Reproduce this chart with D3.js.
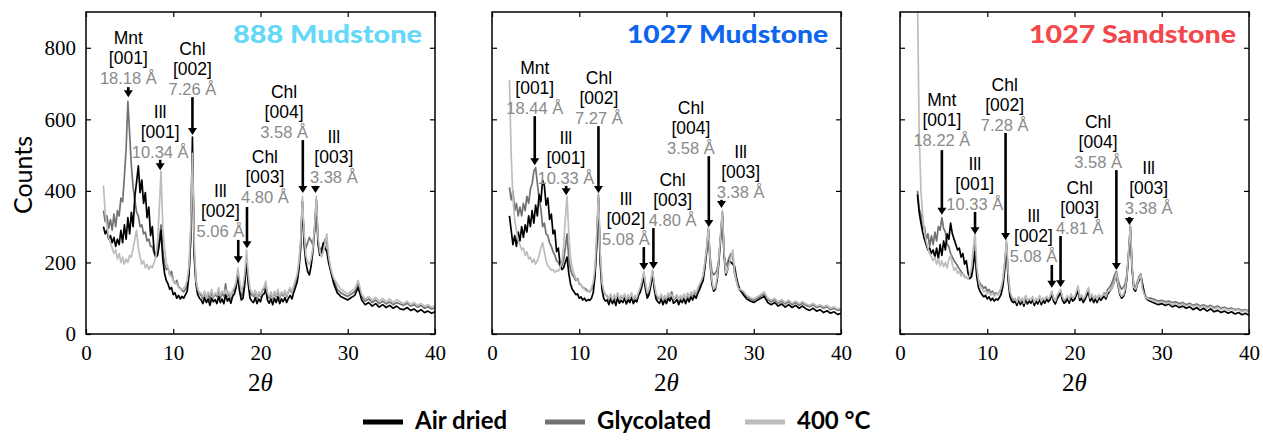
<!DOCTYPE html>
<html>
<head>
<meta charset="utf-8">
<script src="https://cdn.jsdelivr.net/npm/d3@7"></script>
<style>
  body { margin: 0; background: #fff; }
</style>
</head>
<body>
<svg id="chart" width="1263" height="440"></svg>
<script>
// 2theta grid the traces were read on (degrees)
const twoTheta = [
  2.0, 2.2, 2.4, 2.6, 2.8, 3.0, 3.2, 3.4, 3.6, 3.8,
  4.0, 4.2, 4.4, 4.6, 4.8, 5.0, 5.2, 5.4, 5.6, 5.8,
  6.0, 6.2, 6.4, 6.6, 6.8, 7.0, 7.2, 7.4, 7.6, 7.8,
  8.0, 8.2, 8.4, 8.6, 8.8, 9.0, 9.2, 9.4, 9.6, 9.8,
  10.0, 10.2, 10.4, 10.6, 10.8, 11.0, 11.2, 11.4, 11.6, 11.8,
  12.0, 12.2, 12.4, 12.6, 12.8, 13.0,
  13.2, 13.4, 13.6, 13.8, 14.0, 14.2, 14.4, 14.6, 14.8, 15.0,
  15.2, 15.4, 15.6, 15.8, 16.0, 16.2, 16.4, 16.6, 16.8, 17.0,
  17.2, 17.4, 17.6, 17.8, 18.0, 18.2, 18.4, 18.6, 18.8, 19.0,
  19.2, 19.4, 19.6, 19.8, 20.0, 20.2, 20.4, 20.6, 20.8, 21.0,
  21.2, 21.4, 21.6, 21.8, 22.0, 22.2, 22.4, 22.6, 22.8, 23.0,
  23.2, 23.4, 23.6, 23.8, 24.0, 24.2, 24.4, 24.6, 24.8, 25.0,
  25.2, 25.4, 25.6, 25.8, 26.0, 26.2, 26.4, 26.6, 26.8, 27.0,
  27.2, 27.4, 27.6, 27.8, 28.0, 28.2, 28.4,
  28.8, 29.2, 29.6, 30.0, 30.4, 30.8, 31.2, 31.6, 32.0, 32.4,
  32.8, 33.2, 33.6, 34.0, 34.4, 34.8, 35.2, 35.6, 36.0, 36.4,
  36.8, 37.2, 37.6, 38.0, 38.4, 38.8, 39.2, 39.6, 40.0
]

// ---- 888 Mudstone ----
const airDried888 = [
  300, 280, 290, 265, 275, 255, 270, 245, 265, 250,
  290, 255, 305, 265, 325, 280, 340, 300, 385, 425,
  470, 395, 430, 365, 395, 325, 355, 275, 300, 235,
  215, 220, 250, 290, 210, 170, 150, 140, 125, 130,
  110, 115, 100, 108, 98, 105, 100, 110, 120, 165,
  270, 550, 220, 140, 110, 100,
  95, 85, 102, 88, 98, 80, 100, 90, 96, 85,
  105, 88, 98, 85, 110, 92, 100, 86, 105, 112,
  130, 165, 120, 95, 100, 140, 205, 140, 100, 92,
  88, 102, 85, 98, 90, 108, 112, 125, 95, 86,
  98, 82, 100, 88, 104, 85, 98, 90, 102, 88,
  100, 108, 98, 115, 130, 145, 180, 240, 370, 250,
  200, 175, 165, 190, 230, 290, 375, 250, 220, 230,
  255, 240, 230, 200, 180, 160, 140,
  115, 105, 100, 95, 102, 108, 130, 95, 82, 88,
  78, 85, 75, 82, 74, 80, 72, 78, 70, 68,
  74, 66, 70, 62, 68, 60, 64, 58, 62
]
const glycolated888 = [
  345, 315, 330, 295, 320, 290, 335, 300, 345, 330,
  380, 370, 440, 520, 650, 560, 470, 410, 375, 340,
  330, 300, 305, 280, 285, 260, 265, 245, 245, 225,
  215, 235, 265, 305, 235, 195, 180, 185, 165, 175,
  150, 142, 150, 132, 128, 122, 118, 125, 135, 170,
  260, 500, 230, 150, 125, 112,
  108, 98, 115, 100, 112, 95, 118, 102, 110, 105,
  125, 100, 115, 105, 140, 105, 112, 100, 118, 125,
  140, 170, 130, 105, 115, 150, 210, 150, 115, 110,
  105, 118, 100, 112, 104, 122, 125, 140, 110, 100,
  112, 98, 116, 104, 120, 100, 114, 106, 118, 104,
  118, 125, 115, 130, 145, 160, 190, 250, 370, 270,
  240, 255, 270, 260, 250, 290, 360, 260, 235, 240,
  250, 265, 255, 210, 185, 165, 150,
  125, 115, 110, 105, 112, 118, 140, 105, 92, 98,
  88, 95, 85, 92, 84, 90, 82, 88, 84, 80,
  86, 78, 82, 75, 80, 72, 76, 70, 72
]
const heated888 = [
  415, 340, 300, 270, 255, 240, 225, 235, 210, 225,
  200, 215, 195, 210, 200, 220, 215, 240, 265, 290,
  240, 215, 195, 205, 185, 195, 180, 190, 185, 200,
  215, 260, 350, 455, 300, 240, 200, 185, 165, 160,
  150, 145, 140, 130, 125, 125, 128, 135, 150, 190,
  300, 505, 260, 150, 125, 115,
  115, 105, 120, 100, 118, 108, 125, 105, 115, 110,
  130, 108, 120, 112, 125, 110, 118, 105, 122, 130,
  145, 185, 150, 120, 135, 170, 235, 165, 125, 118,
  110, 122, 105, 118, 108, 125, 130, 148, 115, 105,
  118, 102, 120, 108, 125, 105, 118, 110, 122, 108,
  120, 130, 118, 135, 150, 165, 200, 260, 385, 280,
  220, 200, 195, 210, 240, 300, 385, 270, 230, 215,
  230, 255, 280, 220, 190, 170, 155,
  140, 125, 118, 112, 120, 125, 150, 110, 98, 105,
  95, 102, 92, 100, 90, 98, 88, 96, 90, 85,
  92, 82, 88, 80, 85, 78, 82, 75, 78
]

// ---- 1027 Mudstone ----
const airDried1027M = [
  330, 290, 250, 275, 245, 285, 260, 300, 270, 305,
  285, 330, 300, 345, 310, 360, 330, 390, 370, 430,
  415, 360, 380, 320, 335, 280, 290, 230, 240, 195,
  180, 185, 200, 215, 170, 140, 125, 118, 110, 112,
  100, 104, 95, 100, 92, 96, 94, 100, 115, 160,
  250, 380, 200, 125, 100, 92,
  95, 82, 100, 85, 96, 80, 102, 86, 94, 88,
  100, 84, 96, 88, 102, 85, 95, 90, 108, 118,
  135, 160, 125, 100, 110, 135, 168, 125, 98, 90,
  86, 98, 82, 95, 85, 100, 92, 106, 86, 90,
  96, 82, 95, 88, 98, 85, 100, 90, 104, 95,
  108, 100, 115, 125, 138, 150, 185, 230, 290, 200,
  140, 120, 125, 150, 200, 270, 340, 220, 165, 180,
  205, 200, 195, 190, 160, 140, 125,
  110, 98, 92, 88, 94, 100, 105, 88, 82, 88,
  78, 84, 75, 82, 74, 80, 72, 78, 70, 66,
  72, 64, 68, 60, 65, 58, 62, 55, 58
]
const glycolated1027M = [
  410, 375, 400, 345, 365, 330, 355, 330, 365, 345,
  385, 365, 405, 420, 455, 465, 420, 380, 350, 300,
  310, 280, 275, 255, 245, 230, 220, 205, 200, 190,
  190, 205, 240, 280, 210, 180, 165, 160, 150, 155,
  140, 138, 130, 128, 125, 120, 118, 125, 135, 170,
  250, 390, 220, 140, 120, 110,
  105, 95, 110, 92, 106, 98, 112, 96, 104, 100,
  110, 94, 106, 98, 112, 95, 105, 100, 115, 125,
  145, 170, 135, 110, 120, 145, 175, 135, 108, 100,
  98, 108, 92, 105, 96, 112, 102, 118, 95, 100,
  106, 94, 104, 98, 108, 96, 112, 100, 115, 106,
  118, 112, 126, 135, 148, 160, 195, 235, 295, 215,
  175, 165, 170, 180, 210, 270, 330, 220, 190, 200,
  215, 225, 215, 170, 150, 132, 122,
  115, 104, 98, 94, 100, 106, 112, 96, 90, 95,
  86, 92, 84, 90, 82, 88, 80, 86, 80, 76,
  82, 74, 78, 72, 76, 68, 72, 66, 68
]
const heated1027M = [
  710, 500, 380, 320, 290, 260, 250, 235, 240, 220,
  230, 210, 215, 200, 210, 195, 205, 220, 240, 255,
  230, 205, 190, 185, 178, 180, 172, 178, 175, 185,
  200, 245, 320, 385, 280, 215, 185, 168, 155, 150,
  142, 138, 130, 125, 120, 118, 120, 128, 145, 185,
  280, 395, 230, 145, 120, 110,
  108, 98, 112, 95, 110, 100, 115, 98, 108, 102,
  112, 96, 110, 100, 115, 98, 108, 102, 118, 130,
  150, 175, 140, 115, 125, 150, 180, 140, 112, 105,
  100, 112, 96, 108, 100, 115, 105, 110, 98, 104,
  110, 96, 108, 100, 112, 98, 115, 104, 118, 110,
  122, 115, 130, 140, 150, 165, 200, 240, 300, 210,
  150, 125, 130, 160, 210, 280, 345, 230, 170, 180,
  200, 215, 235, 175, 150, 130, 125,
  120, 108, 102, 98, 104, 110, 118, 100, 95, 100,
  90, 96, 88, 95, 86, 92, 85, 90, 84, 80,
  86, 78, 82, 76, 80, 72, 76, 70, 72
]

// ---- 1027 Sandstone ----
const airDried1027S = [
  390, 340, 310, 285, 265, 250, 235, 240, 225, 235,
  215, 240, 210, 250, 220, 260, 235, 280, 265, 310,
  280, 265, 250, 235, 240, 215, 225, 195, 205, 170,
  155, 160, 190, 230, 160, 130, 118, 110, 104, 108,
  98, 104, 94, 100, 92, 98, 95, 102, 112, 135,
  180, 250, 150, 105, 92, 88,
  92, 80, 96, 82, 94, 78, 98, 84, 92, 86,
  96, 80, 92, 84, 98, 82, 94, 86, 98, 90,
  96, 112, 92, 84, 98, 106, 118, 96, 86, 90,
  98, 86, 102, 92, 96, 108, 122, 94, 100, 88,
  96, 108, 118, 92, 102, 88, 98, 88, 102, 94,
  100, 106, 98, 112, 118, 125, 135, 150, 165, 135,
  110, 100, 105, 118, 155, 225, 300, 185, 125, 120,
  138, 150, 162, 140, 115, 100, 95,
  90, 86, 82, 85, 80, 84, 76, 80, 74, 78,
  72, 76, 68, 74, 66, 72, 64, 70, 62, 66,
  60, 64, 58, 62, 56, 60, 54, 58, 52
]
const glycolated1027S = [
  400, 350, 335, 295, 300, 265, 280, 245, 275, 250,
  285, 260, 300, 290, 325, 295, 285, 250, 245, 225,
  215, 205, 198, 190, 182, 175, 168, 162, 158, 155,
  160, 175, 210, 250, 175, 150, 140, 135, 128, 132,
  120, 125, 115, 120, 110, 115, 110, 118, 128, 150,
  195, 255, 165, 115, 100, 95,
  98, 86, 102, 88, 100, 84, 105, 90, 98, 92,
  102, 86, 98, 90, 105, 88, 100, 92, 104, 96,
  102, 118, 98, 90, 104, 112, 122, 102, 92, 96,
  104, 92, 108, 98, 102, 114, 128, 100, 106, 95,
  102, 114, 124, 98, 108, 95, 105, 94, 108, 100,
  106, 115, 108, 125, 130, 138, 150, 165, 175, 150,
  135, 125, 130, 140, 165, 220, 290, 180, 135, 130,
  145, 160, 168, 130, 112, 104, 100,
  100, 96, 92, 94, 90, 92, 88, 90, 85, 88,
  82, 86, 80, 84, 78, 82, 76, 80, 74, 78,
  72, 75, 70, 73, 68, 70, 66, 68, 64
]
const heated1027S = [
  950, 560, 400, 330, 285, 260, 240, 225, 215, 205,
  215, 195, 210, 190, 205, 188, 200, 185, 210, 220,
  195, 178, 185, 170, 175, 162, 168, 158, 160, 155,
  165, 185, 240, 285, 190, 150, 130, 128, 118, 122,
  112, 118, 108, 115, 105, 112, 110, 118, 130, 155,
  200, 265, 170, 120, 105, 98,
  100, 88, 105, 90, 102, 86, 108, 92, 100, 94,
  105, 88, 100, 92, 108, 90, 102, 95, 106, 98,
  105, 120, 100, 92, 108, 115, 125, 105, 95, 100,
  108, 95, 112, 100, 105, 118, 135, 102, 110, 98,
  105, 118, 130, 100, 112, 98, 108, 96, 110, 102,
  108, 112, 104, 118, 120, 125, 135, 150, 170, 140,
  115, 105, 110, 125, 160, 230, 305, 190, 130, 125,
  140, 155, 165, 125, 110, 102, 98,
  95, 92, 88, 90, 85, 88, 82, 86, 80, 84,
  78, 82, 76, 80, 74, 78, 72, 76, 70, 74,
  68, 72, 66, 70, 65, 68, 62, 66, 60
]

const sampleNames = ['888 Mudstone', '1027 Mudstone', '1027 Sandstone']
const treatments = ['Air dried', 'Glycolated', '400 °C']
const xTicks = [0, 10, 20, 30, 40]
const yTicks = [0, 200, 400, 600, 800]

// peak labels
const peakPhase = ['Mnt', 'Ill', 'Chl', 'Ill', 'Chl', 'Chl', 'Ill']
const peakPlane = ['[001]', '[001]', '[002]', '[002]', '[003]', '[004]', '[003]']
const dSpacing888 = ['18.18 Å', '10.34 Å', '7.26 Å', '5.06 Å', '4.80 Å', '3.58 Å', '3.38 Å']
const dSpacing1027M = ['18.44 Å', '10.33 Å', '7.27 Å', '5.08 Å', '4.80 Å', '3.58 Å', '3.38 Å']
const dSpacing1027S = ['18.22 Å', '10.33 Å', '7.28 Å', '5.08 Å', '4.81 Å', '3.58 Å', '3.38 Å']

// ---- layout ----
const panelLeft = [86, 492, 900]
const panelTop = 12
const width = 349
const height = 322
const traceColors = ['#000000', '#727272', '#bdbdbd']
const titleColors = ['#63d8f7', '#0b65ee', '#f4474b']
const titleWidths = [189, 201, 207]

// label anchors in data units: [2theta, counts at first text baseline]
const labelPos = [
  [[4.85, 810], [8.5, 604], [12.2, 780], [15.4, 383], [20.5, 478], [22.7, 660], [28.4, 534]],
  [[4.9, 727], [8.47, 531], [12.25, 699], [15.35, 361], [20.7, 414], [22.8, 615], [28.5, 492]],
  [[4.8, 637], [8.57, 458], [12.0, 679], [15.3, 313], [20.6, 391], [22.7, 576], [28.5, 447]]
]
// arrows: [2theta, start counts, tip counts]
const arrowPos = [
  [[4.85, 690, 662], [8.5, 487, 458], [12.2, 662, 556], [17.45, 263, 198], [18.45, 355, 240], [24.85, 542, 394], [26.3, 414, 394]],
  [[4.9, 609, 472], [8.5, 414, 388], [12.2, 581, 394], [17.4, 243, 179], [18.5, 296, 182], [24.85, 497, 299], [26.3, 375, 352]],
  [[4.8, 514, 333], [8.6, 341, 279], [12.1, 562, 263], [17.4, 193, 129], [18.4, 274, 131], [24.8, 458, 179], [26.3, 327, 305]]
]

const series = [
  [airDried888, glycolated888, heated888],
  [airDried1027M, glycolated1027M, heated1027M],
  [airDried1027S, glycolated1027S, heated1027S]
]
const dSpacings = [dSpacing888, dSpacing1027M, dSpacing1027S]

series.flat().forEach((s, i) => {
  if (s.length !== twoTheta.length) console.warn('length mismatch', i, s.length)
})

const svg = d3.select('#chart')

const x = d3.scaleLinear().domain([0, 40]).range([0, width])
const y = d3.scaleLinear().domain([0, 900]).range([height, 0])

svg.append('defs').append('clipPath')
    .attr('id', 'plot-clip')
  .append('rect')
    .attr('width', width)
    .attr('height', height)

const line = d3.line()
    .x((d, i) => x(twoTheta[i]))
    .y(d => y(d))

const serif = 'Liberation Serif, Times New Roman, serif'
const sans = 'Liberation Sans, Arial, sans-serif'
const gill = 'Lato, Open Sans, sans-serif'

series.forEach((traces, p) => {
  const g = svg.append('g')
      .attr('transform', `translate(${panelLeft[p]},${panelTop})`)

  // draw glycolated, air dried, then 400 C on top
  const order = [1, 0, 2]
  g.append('g')
      .attr('clip-path', 'url(#plot-clip)')
    .selectAll('path')
    .data(order)
    .join('path')
      .attr('d', k => line(traces[k]))
      .attr('fill', 'none')
      .attr('stroke', k => traceColors[k])
      .attr('stroke-width', 1.7)
      .attr('stroke-linejoin', 'round')

  // axes with inward ticks on all four sides
  const styleAxis = a => {
    a.select('.domain').remove()
    a.selectAll('.tick line').attr('stroke', '#000').attr('stroke-width', 1.2)
    a.selectAll('.tick text').attr('font-family', serif).attr('font-size', 21).attr('fill', '#000')
  }
  g.append('g')
      .attr('transform', `translate(0,${height})`)
      .call(d3.axisBottom(x).tickValues(xTicks).tickSizeInner(-5).tickSizeOuter(0).tickPadding(11))
      .call(styleAxis)
  g.append('g')
      .call(d3.axisTop(x).tickValues(xTicks).tickSizeInner(-5).tickSizeOuter(0).tickFormat(''))
      .call(styleAxis)
  g.append('g')
      .call(d3.axisLeft(y).tickValues(yTicks).tickSizeInner(-5).tickSizeOuter(0).tickPadding(10)
        .tickFormat(p === 0 ? d3.format('d') : ''))
      .call(styleAxis)
  g.append('g')
      .attr('transform', `translate(${width},0)`)
      .call(d3.axisRight(y).tickValues(yTicks).tickSizeInner(-5).tickSizeOuter(0).tickFormat(''))
      .call(styleAxis)

  g.append('rect')
      .attr('width', width)
      .attr('height', height)
      .attr('fill', 'none')
      .attr('stroke', '#000')
      .attr('stroke-width', 1.5)

  // sample title
  g.append('text')
      .attr('x', 336)
      .attr('y', 31)
      .attr('text-anchor', 'end')
      .attr('font-family', gill)
      .attr('font-weight', 900)
      .attr('font-size', 25)
      .attr('fill', titleColors[p])
      .attr('textLength', titleWidths[p])
      .attr('lengthAdjust', 'spacingAndGlyphs')
      .text(sampleNames[p])

  // peak labels
  const lab = g.append('g').selectAll('g')
    .data(peakPhase.map((ph, i) => i))
    .join('g')
      .attr('transform', i => `translate(${x(labelPos[p][i][0])},${y(labelPos[p][i][1])})`)
      .attr('text-anchor', 'middle')
      .attr('font-family', sans)
  lab.append('text').attr('font-size', 17.5).attr('fill', '#000').text(i => peakPhase[i])
  lab.append('text').attr('y', 20).attr('font-size', 17.5).attr('fill', '#000').text(i => peakPlane[i])
  lab.append('text').attr('y', 40).attr('font-size', 16.5).attr('fill', '#8a8a8a').text(i => dSpacings[p][i])

  // arrows
  const arr = g.append('g').selectAll('g')
    .data(arrowPos[p])
    .join('g')
  arr.append('line')
      .attr('x1', d => x(d[0]))
      .attr('x2', d => x(d[0]))
      .attr('y1', d => y(d[1]))
      .attr('y2', d => y(d[2]) - 5)
      .attr('stroke', '#000')
      .attr('stroke-width', 2.6)
  arr.append('path')
      .attr('d', d => {
        const ax = x(d[0]), ay = y(d[2])
        return `M${ax - 4.5},${ay - 7}L${ax + 4.5},${ay - 7}L${ax},${ay}Z`
      })
      .attr('fill', '#000')

  // x axis title
  const xt = g.append('text')
      .attr('x', width / 2)
      .attr('y', 379)
      .attr('text-anchor', 'middle')
      .attr('font-family', serif)
      .attr('font-size', 25)
  xt.append('tspan').text('2')
  xt.append('tspan').attr('font-style', 'italic').text('θ')
})

// y axis title
svg.append('text')
    .attr('transform', 'translate(32,175) rotate(-90)')
    .attr('text-anchor', 'middle')
    .attr('font-family', gill)
    .attr('font-size', 25)
    .text('Counts')

// legend
const legendLineX = [363, 545, 745]
const legendTextX = [415, 597, 797]
const legend = svg.append('g').selectAll('g')
  .data(treatments)
  .join('g')
legend.append('line')
    .attr('x1', (d, i) => legendLineX[i])
    .attr('x2', (d, i) => legendLineX[i] + 40)
    .attr('y1', 422)
    .attr('y2', 422)
    .attr('stroke', (d, i) => traceColors[i])
    .attr('stroke-width', 5)
legend.append('text')
    .attr('x', (d, i) => legendTextX[i])
    .attr('y', 429)
    .attr('font-family', gill)
    .attr('font-weight', 700)
    .attr('font-size', 24)
    .text(d => d)
</script>
</body>
</html>
